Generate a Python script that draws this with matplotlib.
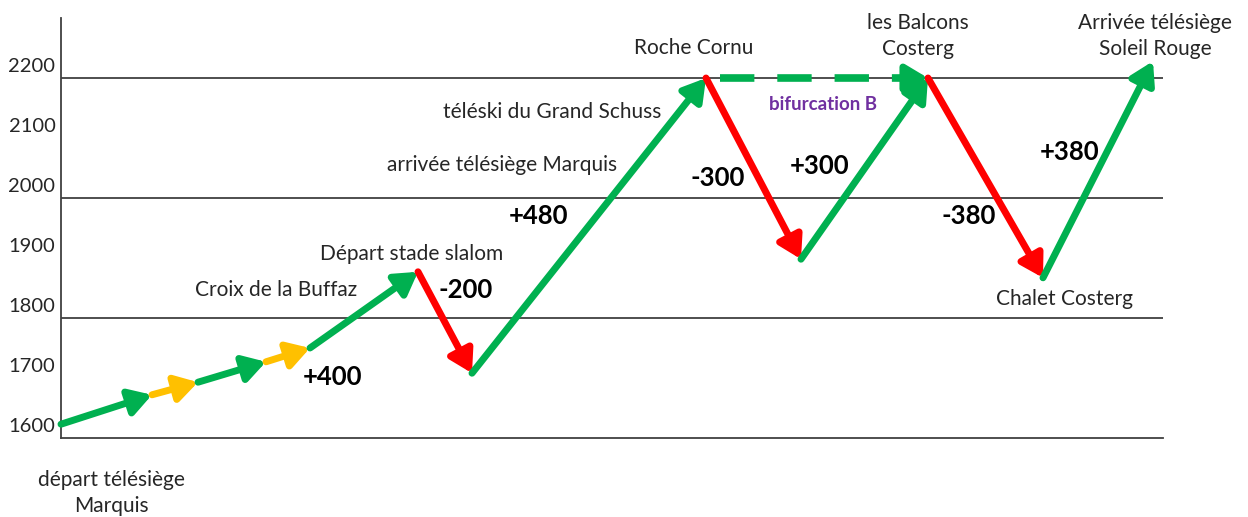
import matplotlib
matplotlib.use("Agg")
import matplotlib.pyplot as plt
from matplotlib.transforms import ScaledTranslation

plt.rcParams['font.family'] = ['Lato', 'DejaVu Sans']

# route profile: horizontal distance (arbitrary units) and altitude (m)
dist = [0, 91, 137, 205, 249, 357, 411, 645, 740, 867, 982, 1092]
alt = [1623, 1672, 1693, 1727, 1750, 1877, 1708, 2200, 1898, 2200, 1867, 2228]
seg_kind = ['up', 'easy', 'up', 'easy', 'up', 'down', 'up', 'down', 'up', 'down', 'up']
yticks = [1600, 1700, 1800, 1900, 2000, 2100, 2200]
grid_levels = [1800, 2000, 2200]
# bifurcation B: shortcut Roche Cornu -> les Balcons
bif_from, bif_to = 7, 9

colors = {'up': '#00B050', 'easy': '#FFC000', 'down': '#FF0000'}

fig = plt.figure(figsize=(12.48, 5.17), dpi=100)
ax = fig.add_axes([61 / 1248, 79 / 517, 1102 / 1248, 420 / 517])
ax.set_xlim(0, 1102)
ax.set_ylim(1600, 2300)

for s in ['top', 'right']:
    ax.spines[s].set_visible(False)
for s in ['left', 'bottom']:
    ax.spines[s].set_color('#404040')
    ax.spines[s].set_linewidth(1.3)
for lv in grid_levels:
    ax.axhline(lv, color='#404040', lw=1.3, zorder=1)

ax.set_xticks([])
ax.set_yticks(yticks)
ax.tick_params(axis='y', length=0, pad=4, labelsize=14.5, labelcolor='#262626')
off = ScaledTranslation(0, 0.13, fig.dpi_scale_trans)
for lab in ax.get_yticklabels():
    lab.set_transform(lab.get_transform() + off)

HEAD = '-|>,head_length=0.6,head_width=0.36'

def arrow(p0, p1, col):
    ax.annotate('', xy=p1, xytext=p0,
                arrowprops=dict(arrowstyle=HEAD, mutation_scale=22, lw=5, color=col,
                                shrinkA=0, shrinkB=0),
                zorder=3)

for i, k in enumerate(seg_kind):
    arrow((dist[i], alt[i]), (dist[i + 1], alt[i + 1]), colors[k])

# dashed shortcut
ax.plot([dist[bif_from] + 14, dist[bif_to] - 18], [alt[bif_from], alt[bif_to]],
        color=colors['up'], lw=5.5, dashes=(4.5, 3), zorder=3)
ax.annotate('', xy=(dist[bif_to], alt[bif_to]), xytext=(dist[bif_to] - 26, alt[bif_to]),
            arrowprops=dict(arrowstyle=HEAD, mutation_scale=22, lw=5, color=colors['up'],
                            shrinkA=0, shrinkB=0), zorder=3)

txt = dict(fontsize=15, color='#262626', ha='center', va='center')
ax.text(50, 1508, "départ télésiège\nMarquis", clip_on=False, linespacing=1.4, **txt)
ax.text(215, 1847, "Croix de la Buffaz", **txt)
ax.text(351, 1907, "Départ stade slalom", **txt)
ax.text(441, 2055, "arrivée télésiège Marquis", **txt)
ax.text(491, 2143, "téléski du Grand Schuss", **txt)
ax.text(633, 2250, "Roche Cornu", **txt)
ax.text(857, 2270, "les Balcons\nCosterg", clip_on=False, linespacing=1.4, **txt)
ax.text(1094, 2270, "Arrivée télésiège\nSoleil Rouge", clip_on=False, linespacing=1.4, **txt)
ax.text(1004, 1832, "Chalet Costerg", **txt)
ax.text(762, 2155, "bifurcation B", fontsize=13.5, fontweight='bold', color='#7030A0',
        ha='center', va='center')

num = dict(fontsize=18.5, fontweight='bold', color='black', ha='center', va='center')
ax.text(272, 1702, "+400", **num)
ax.text(405, 1847, "-200", **num)
ax.text(478, 1970, "+480", **num)
ax.text(657, 2033, "-300", **num)
ax.text(759, 2053, "+300", **num)
ax.text(908, 1970, "-380", **num)
ax.text(1009, 2077, "+380", **num)

fig.savefig("out.png", dpi=100)
